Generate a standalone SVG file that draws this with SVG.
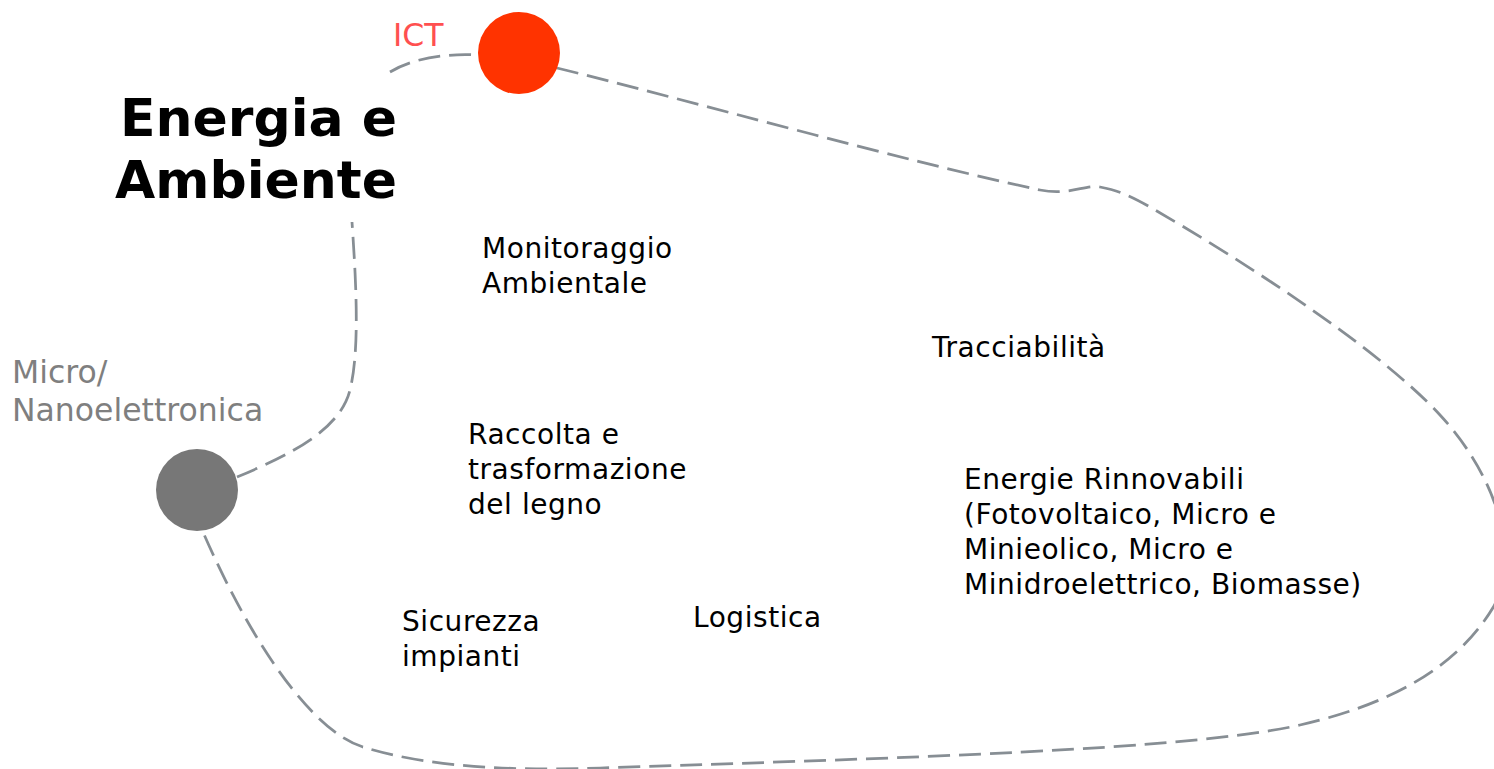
<svg xmlns="http://www.w3.org/2000/svg" width="1494" height="769" viewBox="0 0 1494 769">
  <style>
    .lbl { font-family: "DejaVu Sans", Verdana, sans-serif; font-size: 28px; letter-spacing: 0.55px; fill: #000000; }
    .title { font-family: "DejaVu Sans", Verdana, sans-serif; font-size: 52px; font-weight: bold; fill: #000000; }
    .tech { font-family: "DejaVu Sans", Verdana, sans-serif; font-size: 31.5px; }
    .dash { fill: none; stroke: #878E94; stroke-width: 2.75; stroke-dasharray: 22 9; }
  </style>
  <rect width="1494" height="769" fill="#ffffff"/>
  <g id="connectors">
    <path class="dash" d="M390,72 C410,60 440,53 478,55"/>
    <path class="dash" d="M557,68 C680,98 900,160 1040,190 C1070,196 1085,184 1100,187 C1115,190 1125,193 1150,207 C1250,265 1380,350 1440,415 C1500,480 1520,560 1494,606 C1465,655 1410,700 1300,725 C1190,750 900,758 600,768 C520,771 430,768 363,747 C310,730 250,640 203,532"/>
    <path class="dash" d="M237,477 C290,455 340,430 350,390 C360,350 356,280 352,222"/>
  </g>
  <g id="title">
    <text class="title" text-anchor="end"><tspan x="397" y="136">Energia e</tspan><tspan x="397" y="198">Ambiente</tspan></text>
  </g>
  <g id="ict">
    <circle cx="519" cy="53" r="41" fill="#FF3300"/>
    <text class="tech" x="393" y="46" fill="#FF5050">ICT</text>
  </g>
  <g id="micro">
    <circle cx="197" cy="490" r="41" fill="#777777"/>
    <text class="tech" fill="#7F7F7F"><tspan x="12" y="383">Micro/</tspan><tspan x="12" y="421">Nanoelettronica</tspan></text>
  </g>
  <g id="monitoraggio">
    <text class="lbl"><tspan x="482" y="258">Monitoraggio</tspan><tspan x="482" y="293">Ambientale</tspan></text>
  </g>
  <g id="tracciabilita">
    <text class="lbl" x="932" y="357">Tracciabilità</text>
  </g>
  <g id="raccolta">
    <text class="lbl"><tspan x="468" y="444">Raccolta e</tspan><tspan x="468" y="479">trasformazione</tspan><tspan x="468" y="514">del legno</tspan></text>
  </g>
  <g id="energie">
    <text class="lbl"><tspan x="964" y="489">Energie Rinnovabili</tspan><tspan x="964" y="524">(Fotovoltaico, Micro e</tspan><tspan x="964" y="559">Minieolico, Micro e</tspan><tspan x="964" y="594">Minidroelettrico, Biomasse)</tspan></text>
  </g>
  <g id="sicurezza">
    <text class="lbl"><tspan x="402" y="631">Sicurezza</tspan><tspan x="402" y="666">impianti</tspan></text>
  </g>
  <g id="logistica">
    <text class="lbl" x="693" y="627">Logistica</text>
  </g>
</svg>
